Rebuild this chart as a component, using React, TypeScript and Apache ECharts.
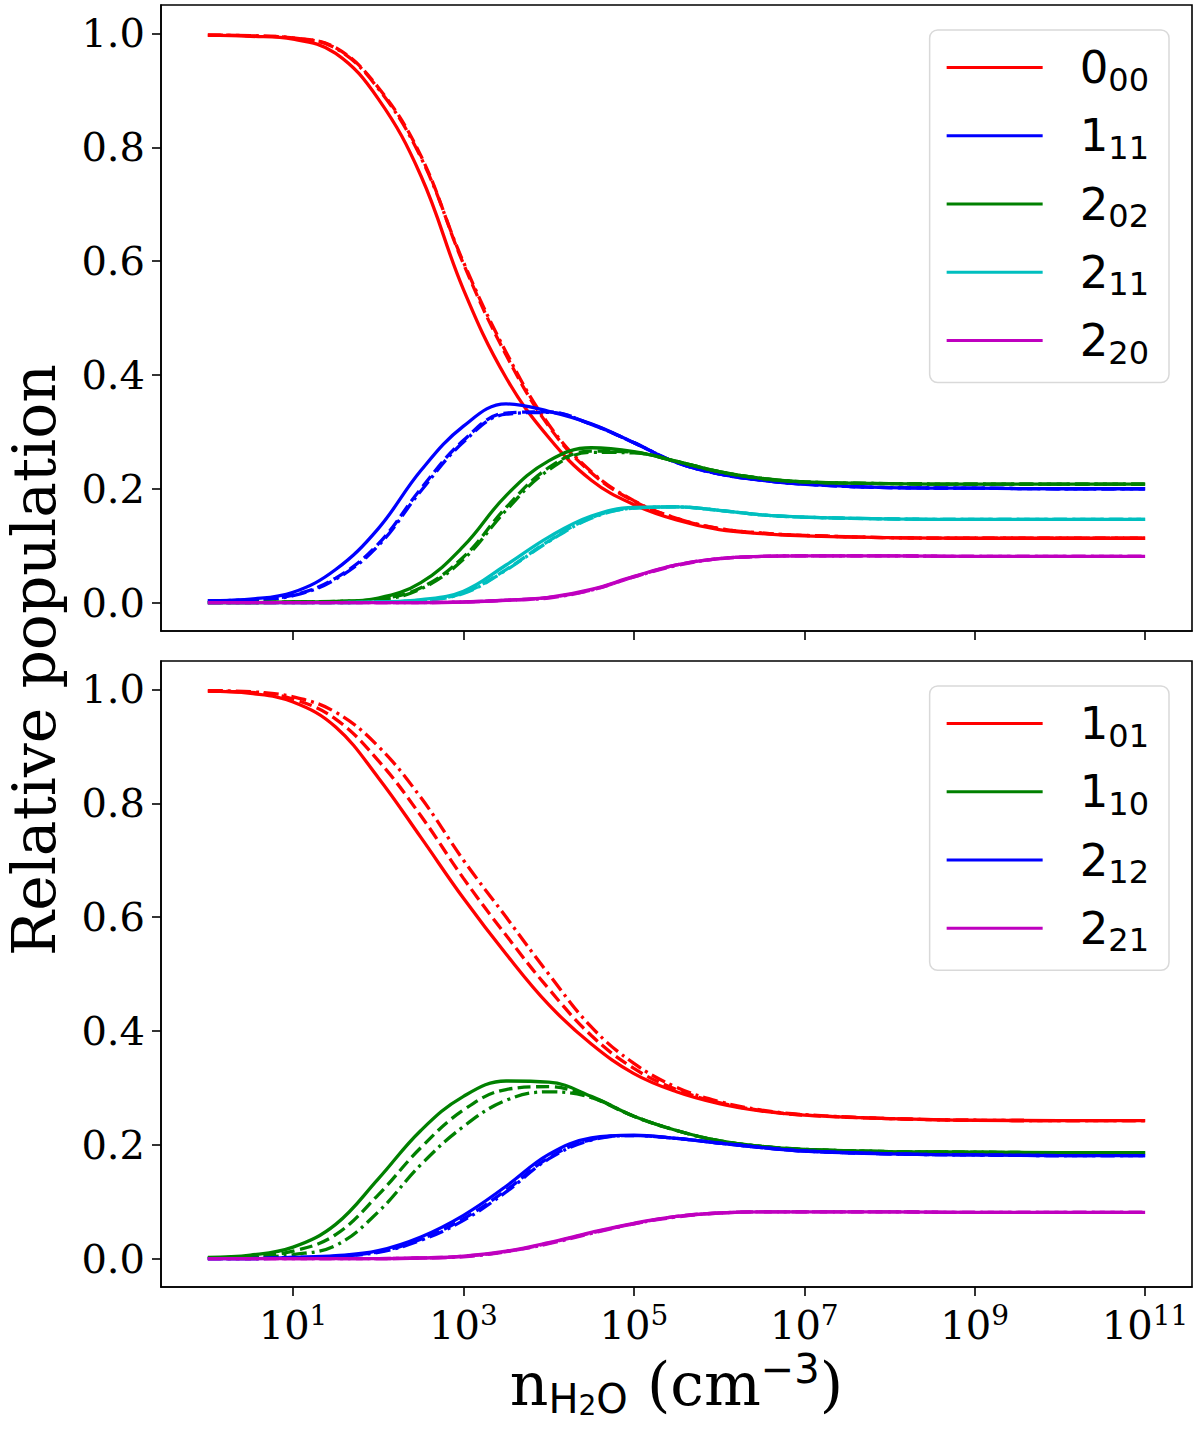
import React, { useEffect, useRef } from "react";
import * as echarts from "echarts";

// log10 of the H2O density (cm^-3) at which the curves are sampled
const LOG_N = [0, 0.5, 1, 1.5, 2, 2.5, 3, 3.5, 4, 4.5, 5, 5.5, 6, 6.5, 7, 8, 9, 10, 11];

const X_TICKS = [1, 3, 5, 7, 9, 11];
const Y_TICKS = [0, 0.2, 0.4, 0.6, 0.8, 1.0];

const TOP_LEVELS = ["0_00", "1_11", "2_02", "2_11", "2_20"];
const BOTTOM_LEVELS = ["1_01", "1_10", "2_12", "2_21"];

// ---- top panel (para levels) ----
const p000_solid = [0.997, 0.995, 0.99, 0.965, 0.885, 0.75, 0.55, 0.395, 0.29, 0.215, 0.172, 0.145, 0.128, 0.121, 0.117, 0.114, 0.113, 0.113, 0.113];
const p000_dash = [0.997, 0.996, 0.992, 0.975, 0.905, 0.785, 0.595, 0.435, 0.31, 0.228, 0.178, 0.148, 0.13, 0.122, 0.118, 0.114, 0.113, 0.113, 0.113];
const p000_dashdot = [0.997, 0.996, 0.992, 0.974, 0.903, 0.782, 0.598, 0.44, 0.313, 0.23, 0.179, 0.148, 0.13, 0.122, 0.118, 0.114, 0.113, 0.113, 0.113];

const p111_solid = [0.003, 0.006, 0.018, 0.058, 0.13, 0.232, 0.31, 0.349, 0.336, 0.314, 0.281, 0.246, 0.226, 0.215, 0.208, 0.202, 0.201, 0.2, 0.2];
const p111_dash = [0.003, 0.005, 0.013, 0.043, 0.103, 0.2, 0.285, 0.333, 0.335, 0.313, 0.281, 0.246, 0.226, 0.215, 0.208, 0.202, 0.201, 0.2, 0.2];
const p111_dashdot = [0.003, 0.005, 0.012, 0.041, 0.1, 0.196, 0.282, 0.331, 0.334, 0.313, 0.281, 0.246, 0.226, 0.215, 0.208, 0.202, 0.201, 0.2, 0.2];

const p202_solid = [0, 0, 0.001, 0.002, 0.008, 0.035, 0.099, 0.188, 0.249, 0.272, 0.265, 0.248, 0.23, 0.218, 0.212, 0.209, 0.208, 0.208, 0.208];
const p202_dash = [0, 0, 0.001, 0.002, 0.006, 0.026, 0.08, 0.167, 0.237, 0.266, 0.264, 0.248, 0.23, 0.218, 0.212, 0.209, 0.208, 0.208, 0.208];
const p202_dashdot = [0, 0, 0.001, 0.002, 0.005, 0.024, 0.076, 0.162, 0.233, 0.264, 0.263, 0.248, 0.23, 0.218, 0.212, 0.209, 0.208, 0.208, 0.208];

const p211_solid = [0, 0, 0, 0, 0.001, 0.005, 0.02, 0.066, 0.115, 0.152, 0.167, 0.168, 0.162, 0.154, 0.15, 0.147, 0.146, 0.146, 0.146];
const p211_dash = [0, 0, 0, 0, 0.001, 0.004, 0.017, 0.058, 0.108, 0.149, 0.166, 0.168, 0.162, 0.154, 0.15, 0.147, 0.146, 0.146, 0.146];
const p211_dashdot = [0, 0, 0, 0, 0.001, 0.004, 0.016, 0.057, 0.107, 0.148, 0.166, 0.168, 0.162, 0.154, 0.15, 0.147, 0.146, 0.146, 0.146];

const p220_solid = [0, 0, 0, 0, 0, 0, 0.001, 0.004, 0.009, 0.023, 0.046, 0.066, 0.077, 0.081, 0.082, 0.082, 0.081, 0.081, 0.081];
const p220_dash = [0, 0, 0, 0, 0, 0, 0.001, 0.004, 0.009, 0.022, 0.045, 0.066, 0.077, 0.081, 0.082, 0.082, 0.081, 0.081, 0.081];
const p220_dashdot = [0, 0, 0, 0, 0, 0, 0.001, 0.004, 0.008, 0.022, 0.045, 0.065, 0.077, 0.081, 0.082, 0.082, 0.081, 0.081, 0.081];

// ---- bottom panel (ortho levels) ----
const o101_solid = [0.997, 0.993, 0.978, 0.934, 0.845, 0.74, 0.633, 0.535, 0.446, 0.377, 0.325, 0.293, 0.272, 0.259, 0.252, 0.246, 0.243, 0.2425, 0.2425];
const o101_dash = [0.997, 0.995, 0.983, 0.948, 0.875, 0.778, 0.668, 0.568, 0.474, 0.392, 0.334, 0.297, 0.274, 0.26, 0.252, 0.246, 0.243, 0.2425, 0.2425];
const o101_dashdot = [0.998, 0.996, 0.987, 0.96, 0.9, 0.81, 0.7, 0.6, 0.5, 0.407, 0.343, 0.301, 0.276, 0.261, 0.253, 0.246, 0.243, 0.2425, 0.2425];

const o110_solid = [0.002, 0.006, 0.02, 0.06, 0.14, 0.225, 0.285, 0.312, 0.31, 0.285, 0.25, 0.225, 0.207, 0.197, 0.192, 0.188, 0.187, 0.186, 0.186];
const o110_dash = [0.001, 0.004, 0.013, 0.042, 0.112, 0.195, 0.261, 0.297, 0.302, 0.283, 0.25, 0.225, 0.207, 0.197, 0.192, 0.188, 0.187, 0.186, 0.186];
const o110_dashdot = [0.001, 0.002, 0.007, 0.023, 0.082, 0.165, 0.232, 0.278, 0.293, 0.283, 0.25, 0.225, 0.207, 0.197, 0.192, 0.188, 0.187, 0.186, 0.186];

const o212_solid = [0, 0, 0.002, 0.005, 0.014, 0.038, 0.076, 0.127, 0.183, 0.212, 0.217, 0.211, 0.203, 0.195, 0.189, 0.184, 0.182, 0.181, 0.181];
const o212_dash = [0, 0, 0.002, 0.004, 0.012, 0.034, 0.07, 0.12, 0.177, 0.209, 0.216, 0.211, 0.203, 0.195, 0.189, 0.184, 0.182, 0.181, 0.181];
const o212_dashdot = [0, 0, 0.001, 0.004, 0.011, 0.032, 0.067, 0.117, 0.175, 0.208, 0.216, 0.211, 0.203, 0.195, 0.189, 0.184, 0.182, 0.181, 0.181];

const o221_solid = [0, 0, 0, 0, 0, 0.001, 0.004, 0.013, 0.028, 0.046, 0.062, 0.074, 0.08, 0.082, 0.082, 0.082, 0.081, 0.081, 0.081];
const o221_dash = [0, 0, 0, 0, 0, 0.001, 0.004, 0.012, 0.027, 0.045, 0.061, 0.074, 0.08, 0.082, 0.082, 0.082, 0.081, 0.081, 0.081];
const o221_dashdot = [0, 0, 0, 0, 0, 0.001, 0.003, 0.012, 0.026, 0.044, 0.061, 0.073, 0.08, 0.082, 0.082, 0.082, 0.081, 0.081, 0.081];

const RED = "#ff0000";
const BLUE = "#0000ff";
const GREEN = "#008000";
const CYAN = "#00bfbf";
const MAGENTA = "#bf00bf";

const DASHED = [13, 5.5];
const DASHDOT = [15, 5, 3, 5];

const levelLabel = (name: string) => {
  const [j, k] = name.split("_");
  return `{m|${j}}{s|${k}}`;
};

const buildSeries = (
  name: string,
  values: number[],
  color: string,
  dash: any,
  panel: number
) => ({
  type: "line",
  name,
  xAxisIndex: panel,
  yAxisIndex: panel,
  data: LOG_N.map((x, i) => [x, values[i]]),
  showSymbol: false,
  symbol: "none",
  smooth: 0.4,
  silent: true,
  itemStyle: { color },
  lineStyle: { color, width: 3.3, type: dash, cap: "butt" },
  emphasis: { disabled: true },
});

export default function App() {
  const ref = useRef<HTMLDivElement>(null);

  useEffect(() => {
    document.body.style.margin = "0";
    if (!ref.current) return;
    const chart = echarts.init(ref.current, null, { renderer: "svg" });

    const topSets: [string, number[], number[], number[], string][] = [
      ["0_00", p000_solid, p000_dash, p000_dashdot, RED],
      ["1_11", p111_solid, p111_dash, p111_dashdot, BLUE],
      ["2_02", p202_solid, p202_dash, p202_dashdot, GREEN],
      ["2_11", p211_solid, p211_dash, p211_dashdot, CYAN],
      ["2_20", p220_solid, p220_dash, p220_dashdot, MAGENTA],
    ];
    const bottomSets: [string, number[], number[], number[], string][] = [
      ["1_01", o101_solid, o101_dash, o101_dashdot, RED],
      ["1_10", o110_solid, o110_dash, o110_dashdot, GREEN],
      ["2_12", o212_solid, o212_dash, o212_dashdot, BLUE],
      ["2_21", o221_solid, o221_dash, o221_dashdot, MAGENTA],
    ];

    const series: any[] = [];
    [topSets, bottomSets].forEach((sets, panel) => {
      sets.forEach(([name, s, d, dd, color]) => {
        series.push(buildSeries(name, s, color, "solid", panel));
        series.push(buildSeries(name + " dashed", d, color, DASHED, panel));
        series.push(buildSeries(name + " dash-dot", dd, color, DASHDOT, panel));
      });
    });

    const tickFont = { fontFamily: "DejaVu Serif", color: "#000" };

    const xAxisBase = (panel: number) => ({
      type: "value",
      gridIndex: panel,
      min: -0.55,
      max: 11.55,
      axisLine: { show: true, onZero: false, lineStyle: { color: "#000", width: 1.6 } },
      splitLine: { show: false },
      axisTick: {
        show: true,
        customValues: X_TICKS,
        length: 9,
        lineStyle: { color: "#000", width: 1.6 },
      },
      axisLabel: {
        show: panel === 1,
        customValues: X_TICKS,
        margin: 14,
        formatter: (v: number) => `{b|10}{p|${Math.round(v)}}`,
        rich: {
          b: { ...tickFont, fontSize: 40, lineHeight: 48 },
          p: { ...tickFont, fontSize: 28, lineHeight: 18, verticalAlign: "top" },
        },
      },
    });

    const yAxisBase = (panel: number) => ({
      type: "value",
      gridIndex: panel,
      min: -0.05,
      max: 1.05,
      axisLine: { show: true, onZero: false, lineStyle: { color: "#000", width: 1.6 } },
      splitLine: { show: false },
      axisTick: {
        show: true,
        customValues: Y_TICKS,
        length: 9,
        lineStyle: { color: "#000", width: 1.6 },
      },
      axisLabel: {
        customValues: Y_TICKS,
        margin: 16,
        formatter: (v: number) => v.toFixed(1),
        ...tickFont,
        fontSize: 40,
      },
    });

    const legendBase = (levels: string[], top: number) => ({
      data: levels,
      orient: "vertical",
      right: 31,
      top,
      icon: "rect",
      itemWidth: 96,
      itemHeight: 3,
      itemGap: 17.75,
      padding: [15, 20, 14, 17],
      backgroundColor: "#ffffff",
      borderColor: "#d9d9d9",
      borderWidth: 1.5,
      borderRadius: 8,
      selectedMode: false,
      formatter: levelLabel,
      textStyle: {
        padding: [0, 0, 0, 32],
        rich: {
          m: { fontFamily: "DejaVu Sans", fontSize: 45, lineHeight: 56, color: "#000" },
          s: { fontFamily: "DejaVu Sans", fontSize: 32, lineHeight: 36, verticalAlign: "bottom", color: "#000" },
        },
      },
    });

    const option: any = {
      animation: false,
      backgroundColor: "#ffffff",
      grid: [
        { left: 161, right: 8, top: 5, height: 626, show: true, borderColor: "#000", borderWidth: 1.6 },
        { left: 161, right: 8, top: 661, height: 626, show: true, borderColor: "#000", borderWidth: 1.6 },
      ],
      xAxis: [
        xAxisBase(0),
        {
          ...xAxisBase(1),
          name: "{n|n}{sb|H}{ss|2}{sb|O}{n| (cm}{sp|\u22123}{n|)}",
          nameLocation: "middle",
          nameGap: 62,
          nameTextStyle: {
            rich: {
              n: { fontFamily: "DejaVu Serif", fontSize: 60, lineHeight: 70, color: "#000" },
              sb: { fontFamily: "DejaVu Sans", fontSize: 40, lineHeight: 44, verticalAlign: "bottom", color: "#000" },
              ss: { fontFamily: "DejaVu Sans", fontSize: 28, lineHeight: 22, verticalAlign: "bottom", color: "#000" },
              sp: { fontFamily: "DejaVu Sans", fontSize: 40, lineHeight: 38, verticalAlign: "top", color: "#000" },
            },
          },
        },
      ],
      yAxis: [yAxisBase(0), yAxisBase(1)],
      legend: [legendBase(TOP_LEVELS, 30), legendBase(BOTTOM_LEVELS, 686)],
      graphic: [
        {
          type: "text",
          x: 34,
          y: 660,
          rotation: Math.PI / 2,
          style: {
            text: "Relative population",
            fontFamily: "DejaVu Serif",
            fontSize: 60,
            fill: "#000",
            align: "center",
            verticalAlign: "middle",
          },
        },
      ],
      series,
    };

    chart.setOption(option);
    return () => chart.dispose();
  }, []);

  return <div ref={ref} style={{ width: 1200, height: 1431 }} />;
}
